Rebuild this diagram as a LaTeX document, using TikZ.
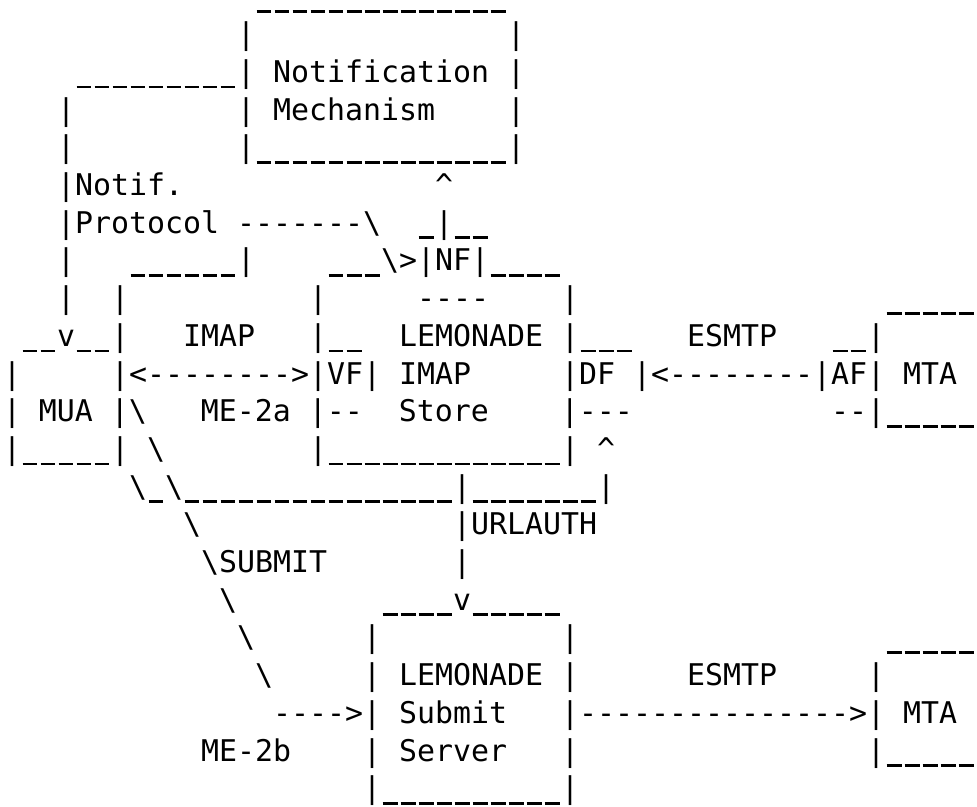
\documentclass[tikz,border=0pt]{standalone}
\usepackage{fontspec}
\setmonofont{DejaVu Sans Mono}
\newcommand\rep[2]{\ifnum#1>0 #2\expandafter\rep\expandafter{\number\numexpr#1-1\relax}{#2}\fi}
% runs of the art characters
\newcommand\ubar{\hbox to \fontcharwd\font`\_{\hss\rule[-0.2em]{0.5em}{0.09em}\hss}}
\newcommand\blanks[1]{\rep{#1}{~}}
\newcommand\unders[1]{\rep{#1}{\ubar}}
\newcommand\dashes[1]{\rep{#1}{-}}
\newcommand\bsl{\textbackslash}
\newcommand\caret{\textasciicircum}
\tikzset{artrow/.style={anchor=base west, inner sep=0pt, outer sep=0pt,
  font=\ttfamily\fontsize{29.9pt}{37.7pt}\selectfont}}
\begin{document}
\begin{tikzpicture}[x=18pt, y=-37.7pt]
	\useasboundingbox (0pt,0pt) rectangle (977pt,-806pt);
	\begin{scope}[shift={(3pt,-7pt)}]
	\path
		(0,0) node[artrow] (r0) {\blanks{14}\unders{14}}
		(0,1) node[artrow] (r1) {\blanks{13}|\blanks{14}|}
		(0,2) node[artrow] (r2) {\blanks{4}\unders{9}|~Notification~|}
		(0,3) node[artrow] (r3) {\blanks{3}|\blanks{9}|~Mechanism\blanks{4}|}
		(0,4) node[artrow] (r4) {\blanks{3}|\blanks{9}|\unders{14}|}
		(0,5) node[artrow] (r5) {\blanks{3}|Notif.\blanks{14}\caret}
		(0,6) node[artrow] (r6) {\blanks{3}|Protocol~\dashes{7}\bsl\blanks{2}\unders{1}|\unders{2}}
		(0,7) node[artrow] (r7) {\blanks{3}|\blanks{3}\unders{6}|\blanks{4}\unders{3}\bsl>|NF|\unders{4}}
		(0,8) node[artrow] (r8) {\blanks{3}|\blanks{2}|\blanks{10}|\blanks{5}\dashes{4}\blanks{4}|\blanks{17}\unders{5}}
		(0,9) node[artrow] (r9) {~\unders{2}v\unders{2}|\blanks{3}IMAP\blanks{3}|\unders{2}\blanks{2}LEMONADE~|\unders{3}\blanks{3}ESMTP\blanks{3}\unders{2}|}
		(0,10) node[artrow] (r10) {|\blanks{5}|<\dashes{8}>|VF|~IMAP\blanks{5}|DF~|<\dashes{8}|AF|~MTA}
		(0,11) node[artrow] (r11) {|~MUA~|\bsl\blanks{3}ME-2a~|\dashes{2}\blanks{2}Store\blanks{4}|\dashes{3}\blanks{11}\dashes{2}|\unders{5}}
		(0,12) node[artrow] (r12) {|\unders{5}|~\bsl\blanks{8}|\unders{13}|~\caret}
		(0,13) node[artrow] (r13) {\blanks{7}\bsl\unders{1}\bsl\unders{15}|\unders{7}|}
		(0,14) node[artrow] (r14) {\blanks{10}\bsl\blanks{14}|URLAUTH}
		(0,15) node[artrow] (r15) {\blanks{11}\bsl SUBMIT\blanks{7}|}
		(0,16) node[artrow] (r16) {\blanks{12}\bsl\blanks{8}\unders{4}v\unders{5}}
		(0,17) node[artrow] (r17) {\blanks{13}\bsl\blanks{6}|\blanks{10}|\blanks{17}\unders{5}}
		(0,18) node[artrow] (r18) {\blanks{14}\bsl\blanks{5}|~LEMONADE~|\blanks{6}ESMTP\blanks{5}|}
		(0,19) node[artrow] (r19) {\blanks{15}\dashes{4}>|~Submit\blanks{3}|\dashes{15}>|~MTA}
		(0,20) node[artrow] (r20) {\blanks{11}ME-2b\blanks{4}|~Server\blanks{3}|\blanks{16}|\unders{5}}
		(0,21) node[artrow] (r21) {\blanks{20}|\unders{10}|}
	;
	\end{scope}
\end{tikzpicture}
\end{document}
